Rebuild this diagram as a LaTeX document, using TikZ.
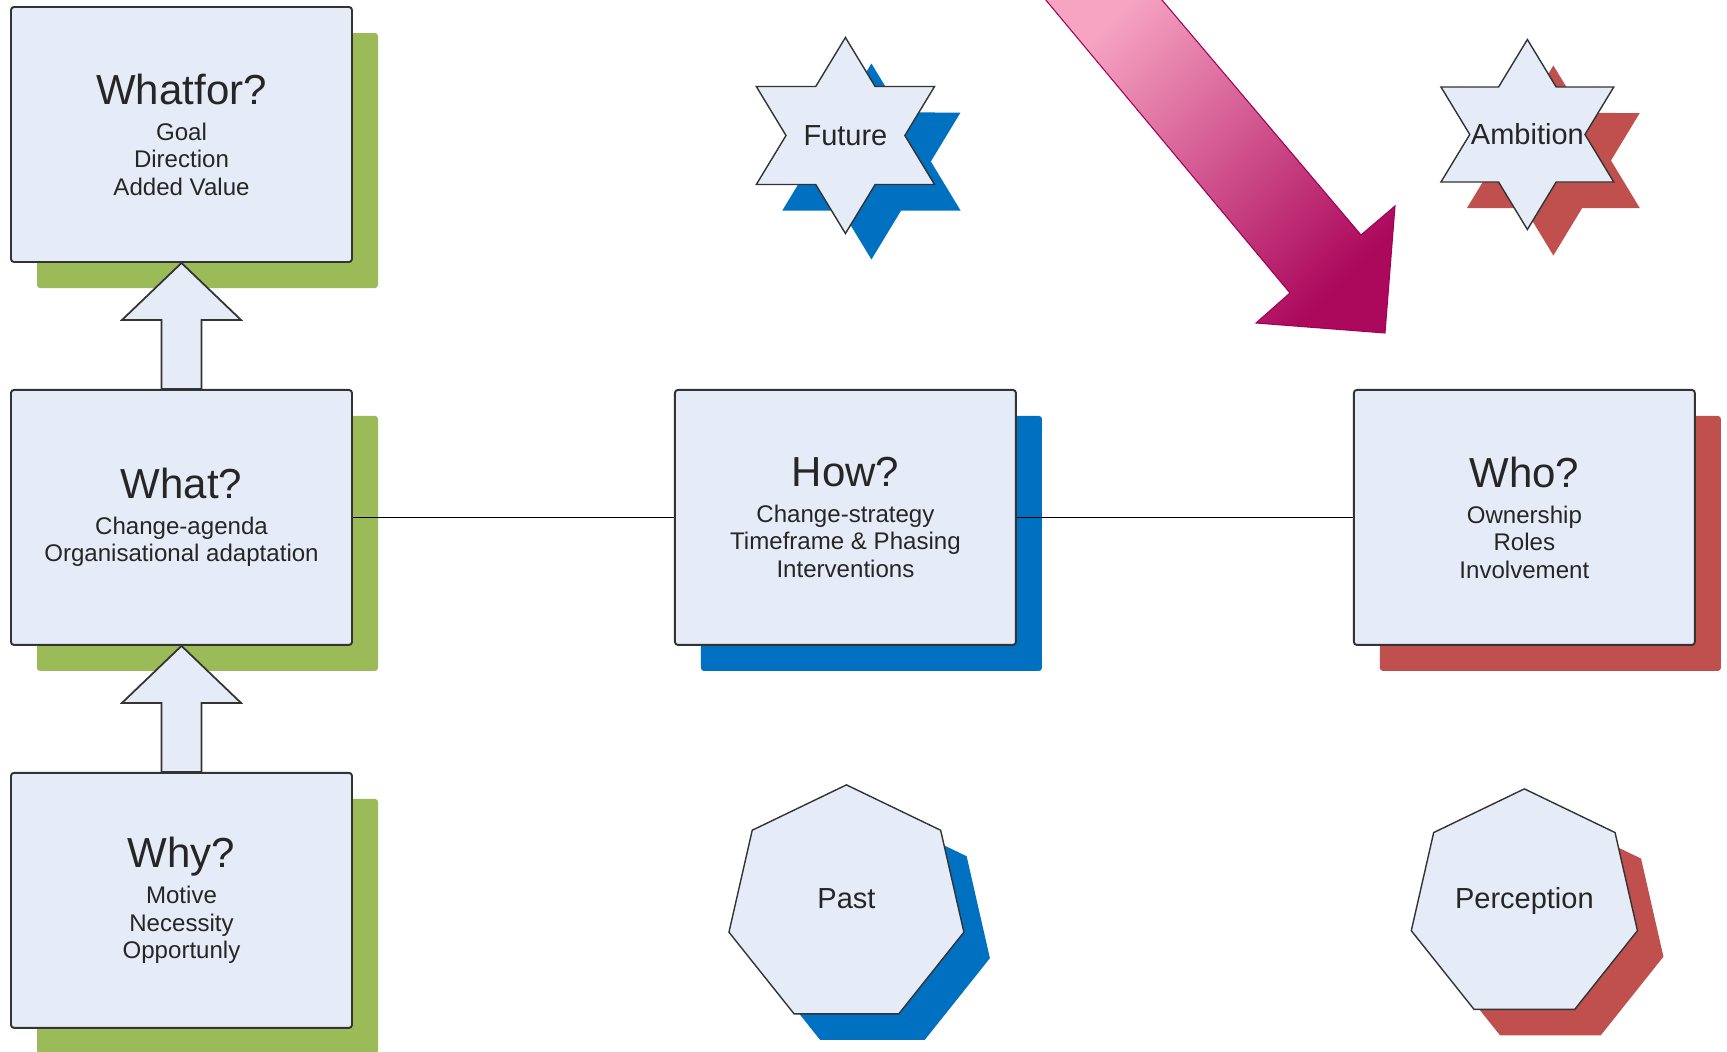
\documentclass[tikz,border=0pt]{standalone}
\usepackage{fontspec}
\setmainfont{Liberation Sans}
\usetikzlibrary{positioning,calc,shapes.geometric,shadows}

\definecolor{boxfill}{RGB}{230,236,247}
\definecolor{shgreen}{RGB}{155,187,89}
\definecolor{shblue}{RGB}{0,112,192}
\definecolor{shred}{RGB}{192,80,77}
\definecolor{arrowpink}{RGB}{246,164,194}
\definecolor{arrowplum}{RGB}{172,8,92}
\definecolor{arrowedge}{RGB}{160,0,85}

\newcommand{\qfont}{\fontsize{23.9}{28}\selectfont}
\newcommand{\itemfont}{\fontsize{13.7}{15.65}\selectfont}
\newcommand{\shapefont}{\fontsize{16.5}{19}\selectfont}

\begin{document}
\begin{tikzpicture}[node distance=2.52cm,
  qbox/.style={draw=black!80, line width=1.1pt, rounded corners=0.06cm, fill=boxfill,
    minimum width=6.82cm, minimum height=5.1cm, align=center, font=\itemfont, text=black!85},
  shad/.style={drop shadow={shadow xshift=0.52cm, shadow yshift=-0.52cm, opacity=1, fill=#1}},
  star6/.style={star, star points=6, star point ratio=1.732, draw=black!80, line width=0.8pt,
    fill=boxfill, inner sep=0pt, xscale=1.05},
  hepta/.style={regular polygon, regular polygon sides=7, draw=black!80, line width=0.8pt,
    fill=boxfill, inner sep=0pt},
  tag/.style={font=\shapefont, text=black!85},
  uparr/.style={draw=black!80, line width=1pt, fill=boxfill},
  link/.style={line width=0.8pt}]
\useasboundingbox (0,0) rectangle (34.54,-21.04);
\node[qbox, shad=shgreen] (whatfor) at (3.63,-2.69) {{\qfont Whatfor?}\\[4.8pt]Goal\\Direction\\Added Value};
\node[qbox, shad=shgreen, below=of whatfor] (what) {{\qfont What?}\\[4.8pt]Change-agenda\\Organisational adaptation};
\node[qbox, shad=shgreen, below=of what] (why) {{\qfont Why?}\\[4.8pt]Motive\\Necessity\\Opportunly};
\node[qbox, shad=shblue, right=6.42cm of what] (how) {{\qfont How?}\\[4.8pt]Change-strategy\\Timeframe \& Phasing\\Interventions};
\node[qbox, shad=shred, right=6.72cm of how] (who) {{\qfont Who?}\\[4.8pt]Ownership\\Roles\\Involvement};
\node[star6, shad=shblue, minimum size=3.92cm,
  label={[name=futuretxt, tag]center:Future}] (future) at ($(how |- whatfor)+(0,-0.02)$) {};
\node[star6, shad=shred, minimum size=3.8cm,
  label={[name=ambitiontxt, tag]center:Ambition}] (ambition) at ($(who |- whatfor)+(0.06,0)$) {};
\node[hepta, shad=shblue, minimum size=4.82cm,
  label={[name=pasttxt, tag, yshift=0.13cm]center:Past}] (past) at ($(how |- why)+(0.02,-0.10)$) {};
\node[hepta, shad=shred, minimum size=4.64cm,
  label={[name=perceptiontxt, tag, yshift=0.08cm]center:Perception}] (perception) at ($(who |- why)+(0,-0.09)$) {};
\draw[link] (what) -- (how);
\draw[link] (how) -- (who);
\draw[uparr] ($(what.north)+(-0.4,0)$) |- ($(whatfor.south)+(-1.19,-1.14)$) -- (whatfor.south)
  -- ($(whatfor.south)+(1.19,-1.14)$) -| ($(what.north)+(0.4,0)$) -- cycle;
\draw[uparr] ($(why.north)+(-0.4,0)$) |- ($(what.south)+(-1.19,-1.14)$) -- (what.south)
  -- ($(what.south)+(1.19,-1.14)$) -| ($(why.north)+(0.4,0)$) -- cycle;
\draw[arrowedge, line width=0.6pt, top color=arrowpink, bottom color=arrowplum, shading angle=45]
  (20.75,0.2) -- (25.80,-5.86) -- (25.12,-6.46) -- (27.70,-6.66) -- (27.90,-4.12)
  -- (27.22,-4.70) -- (23.07,0.2) -- cycle;
\end{tikzpicture}
\end{document}
